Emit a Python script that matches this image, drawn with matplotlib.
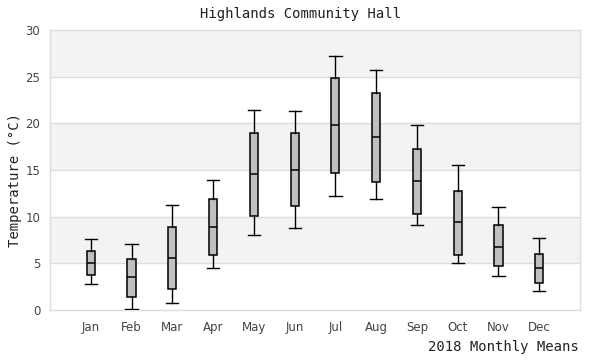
import matplotlib
matplotlib.use("Agg")
import matplotlib.pyplot as plt

months = ["Jan", "Feb", "Mar", "Apr", "May", "Jun",
          "Jul", "Aug", "Sep", "Oct", "Nov", "Dec"]
whisker_low = [2.75, 0.1, 0.8, 4.45, 8.0, 8.75, 12.2, 11.85, 9.1, 5.0, 3.6, 2.0]
q1 = [3.7, 1.35, 2.25, 5.85, 10.05, 11.1, 14.65, 13.75, 10.25, 5.85, 4.7, 2.85]
median = [5.0, 3.5, 5.55, 8.85, 14.55, 15.05, 19.8, 18.5, 13.8, 9.4, 6.8, 4.45]
q3 = [6.3, 5.5, 8.85, 11.85, 19.0, 19.0, 24.85, 23.2, 17.2, 12.8, 9.1, 6.05]
whisker_high = [7.6, 7.05, 11.3, 13.9, 21.4, 21.3, 27.2, 25.7, 19.8, 15.5, 11.0, 7.7]

stats = []
for i in range(len(months)):
    stats.append({"whislo": whisker_low[i], "q1": q1[i], "med": median[i],
                  "q3": q3[i], "whishi": whisker_high[i], "fliers": []})

fig = plt.figure(figsize=(6, 3.6), dpi=100)
ax = fig.add_axes([50 / 600, 50 / 360, 530 / 600, 280 / 360])

# alternating bands
for lo in range(0, 30, 5):
    if (lo // 5) % 2 == 1:
        ax.axhspan(lo, lo + 5, color="#f3f3f3", zorder=0, lw=0)
for y in range(5, 30, 5):
    ax.axhline(y, color="#dddddd", lw=1, zorder=0.5)

ax.bxp(stats, positions=range(1, 13), widths=0.2, patch_artist=True,
       showfliers=False,
       boxprops=dict(facecolor="#c0c0c0", edgecolor="black", linewidth=1.1),
       medianprops=dict(color="black", linewidth=1.1),
       whiskerprops=dict(color="black", linewidth=1.0),
       capprops=dict(color="black", linewidth=1.0),
       capwidths=0.3, zorder=3)

ax.set_xlim(0, 13)
ax.set_ylim(0, 30)
ax.set_yticks(range(0, 31, 5))
ax.set_xticks(range(1, 13))
ax.set_xticklabels(months)
ax.tick_params(length=0, labelsize=8.5, colors="#444444", pad=8)
ax.tick_params(axis="y", pad=7)
for s in ax.spines.values():
    s.set_color("#dddddd")
    s.set_linewidth(1)

fig.text(0.5, 1 - 14 / 360, "Highlands Community Hall", ha="center", va="center",
         family="DejaVu Sans Mono", fontsize=10, color="#222222")
fig.text(15 / 600, 0.5, "Temperature (°C)", rotation=90, ha="center", va="center",
         family="DejaVu Sans Mono", fontsize=10, color="#222222")
fig.text(579 / 600, 1 - 347 / 360, "2018 Monthly Means", ha="right", va="center",
         family="DejaVu Sans Mono", fontsize=10, color="#222222")

fig.savefig("out.png", dpi=100)
